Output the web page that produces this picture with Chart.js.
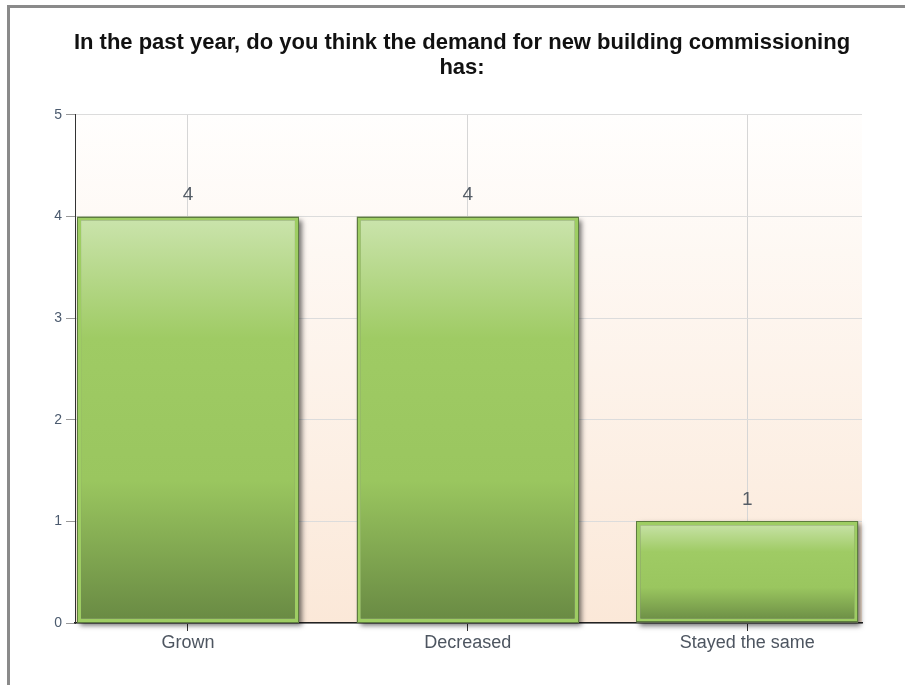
<!DOCTYPE html>
<html><head><meta charset="utf-8">
<script src="https://cdn.jsdelivr.net/npm/chart.js@4.4.0/dist/chart.umd.min.js"></script>
<style>
html,body{margin:0;padding:0;background:#fff;overflow:hidden;}
#wrap{position:relative;width:905px;height:685px;overflow:hidden;}
#frame{position:absolute;left:7px;top:5px;width:1000px;height:1000px;border:3px solid #8a8a8a;box-sizing:border-box;pointer-events:none;}
canvas{position:absolute;left:0;top:0;}
</style></head><body>
<div id="wrap"><canvas id="c" width="905" height="685"></canvas><div id="frame"></div></div>
<script>
const titleLines = ['In the past year, do you think the demand for new building commissioning', 'has:'];
const categories = ['Grown', 'Decreased', 'Stayed the same'];
const counts = [4, 4, 1];
const yTicks = [0, 1, 2, 3, 4, 5];

const FONT = "'Liberation Sans', Arial, sans-serif";

const plotBg = {
  id: 'plotBg',
  beforeDraw(chart) {
    const a = chart.chartArea, c = chart.ctx;
    const g = c.createLinearGradient(0, a.top, 0, a.bottom);
    g.addColorStop(0, '#fffefd');
    g.addColorStop(1, '#fbe8d8');
    c.save(); c.fillStyle = g; c.fillRect(a.left, a.top, a.right - a.left, a.bottom - a.top); c.restore();
  }
};

const barDeco = {
  id: 'barDeco',
  beforeDatasetsDraw(chart) {
    const c = chart.ctx;
    chart.getDatasetMeta(0).data.forEach(bar => {
      const p = bar.getProps(['x', 'y', 'base', 'width'], true);
      c.save();
      c.shadowColor = 'rgba(0,0,0,0.55)';
      c.shadowBlur = 5; c.shadowOffsetX = 3; c.shadowOffsetY = 3;
      c.fillStyle = '#777';
      c.fillRect(p.x - p.width / 2, p.y, p.width, p.base - p.y);
      c.restore();
    });
  },
  afterDatasetsDraw(chart) {
    const c = chart.ctx;
    chart.getDatasetMeta(0).data.forEach((bar, i) => {
      const p = bar.getProps(['x', 'y', 'base', 'width'], true);
      c.save();
      c.strokeStyle = '#5d7c3e'; c.lineWidth = 1;
      c.strokeRect(Math.round(p.x - p.width / 2) + 0.5, Math.round(p.y) + 0.5, Math.round(p.width) - 1, Math.round(p.base - p.y) - 1);
      c.fillStyle = '#555d66';
      c.font = '19px ' + FONT;
      c.textAlign = 'center'; c.textBaseline = 'middle';
      c.fillText(String(counts[i]), p.x, p.y - 22);
      c.restore();
    });
  }
};

new Chart(document.getElementById('c'), {
  type: 'bar',
  data: {
    datasets: [{
      data: counts.map((v, i) => ({ x: i, y: v })),
      barPercentage: 0.793,
      categoryPercentage: 1,
      borderWidth: 4,
      borderColor: '#9ecd63',
      borderSkipped: false,
      backgroundColor: (ctx) => {
        const chart = ctx.chart;
        if (!chart.chartArea || ctx.type !== 'data') return '#9dc964';
        const ys = chart.scales.y;
        const top = ys.getPixelForValue(ctx.raw.y), bot = ys.getPixelForValue(0);
        const g = chart.ctx.createLinearGradient(0, top, 0, bot);
        g.addColorStop(0, '#cbe4ad');
        g.addColorStop(0.3, '#9fcb64');
        g.addColorStop(0.65, '#9ac65f');
        g.addColorStop(1, '#688943');
        return g;
      }
    }]
  },
  options: {
    responsive: false,
    animation: false,
    layout: { padding: { left: 19, right: 0, top: 0, bottom: 0 } },
    plugins: {
      legend: { display: false },
      tooltip: { enabled: false },
      title: {
        display: true,
        text: titleLines,
        color: '#111',
        font: { family: FONT, size: 22, weight: 'bold', lineHeight: 1.136 },
        padding: { top: 30, bottom: 35 }
      }
    },
    scales: {
      x: {
        type: 'linear',
        offset: false,
        min: -0.404, max: 2.41,
        afterBuildTicks: s => { s.ticks = categories.map((_, i) => ({ value: i })); },
        afterFit: s => { s.height = 62; },
        grid: { offset: false, color: '#d6d6d6', tickColor: '#333', tickLength: 8, lineWidth: 1 },
        border: { color: '#222', width: 1.5 },
        ticks: {
          callback: v => categories[v],
          color: '#4d5560',
          font: { family: FONT, size: 18 },
          padding: 1, maxRotation: 0, autoSkip: false
        }
      },
      y: {
        min: 0, max: 5,
        afterBuildTicks: s => { s.ticks = yTicks.map(v => ({ value: v })); },
        afterFit: s => { s.width = 56; },
        grid: { color: '#dcdcdc', tickColor: '#999', tickLength: 9, lineWidth: 1 },
        border: { color: '#333', width: 1 },
        ticks: { color: '#4b5a6e', font: { family: FONT, size: 14 }, padding: 4 }
      },
      yRightSpace: {
        type: 'linear',
        position: 'right',
        min: 0, max: 5,
        afterFit: s => { s.width = 43; },
        grid: { display: false, drawTicks: false },
        border: { display: false },
        ticks: { display: false }
      }
    }
  },
  plugins: [plotBg, barDeco]
});
</script>
</body></html>
